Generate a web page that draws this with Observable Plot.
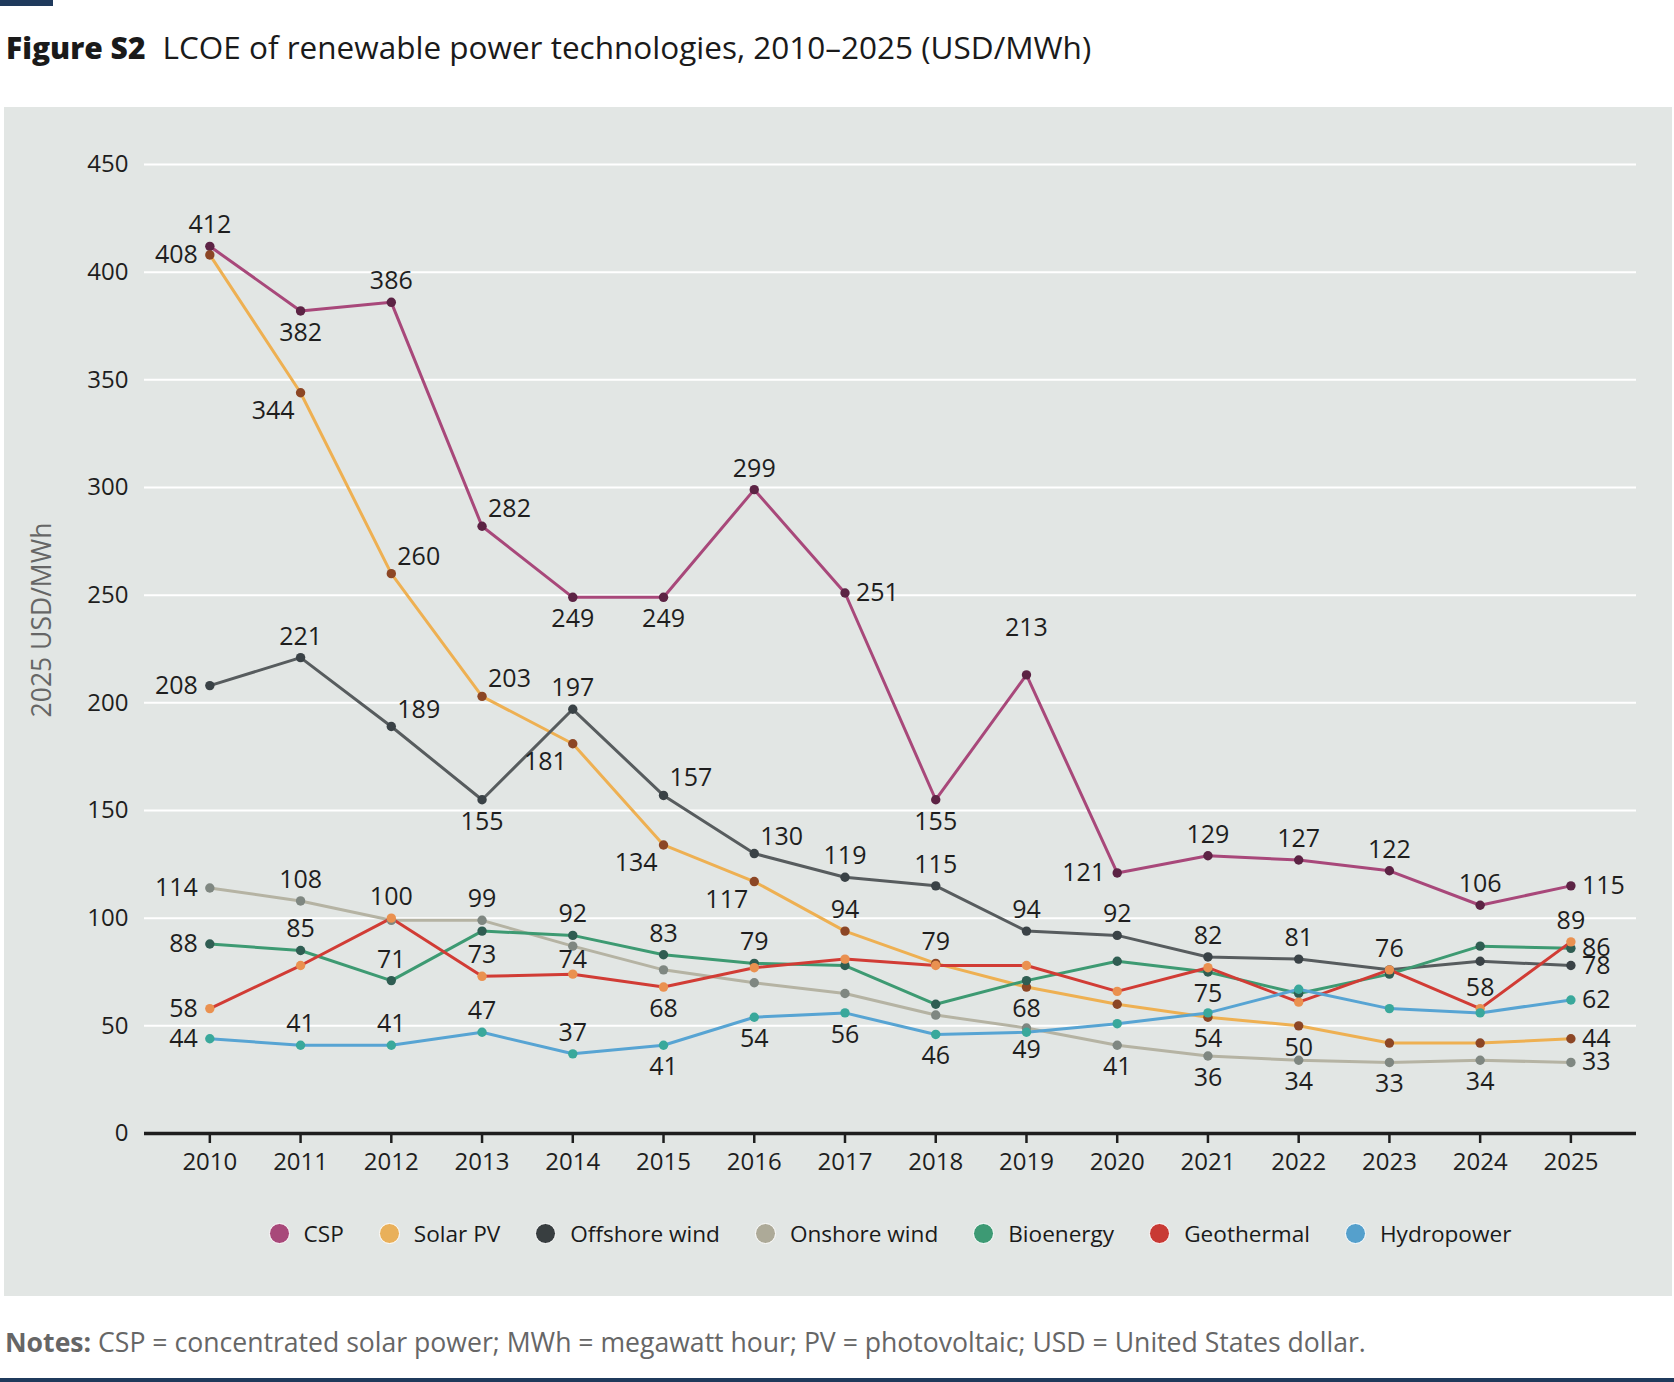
<!DOCTYPE html>
<html>
<head>
<meta charset="utf-8">
<script src="https://cdn.jsdelivr.net/npm/d3@7"></script>
<script src="https://cdn.jsdelivr.net/npm/@observablehq/plot@0.6"></script>
<style>
  body { margin: 0; background: #ffffff; }
  #page { position: relative; width: 1674px; height: 1382px; overflow: hidden; font-family: "Open Sans", sans-serif; color: #1a1a1a; }
  #topbar { position: absolute; left: 0; top: 0; width: 53px; height: 6px; background: #1f3a5c; }
  #title { position: absolute; left: 6px; top: 25px; font-size: 31.5px; white-space: nowrap; color: #1a1a1a; }
  #title b { font-weight: 800; font-size: 30px; margin-right: 17px; }
  #panel { position: absolute; left: 4px; top: 107px; width: 1668px; height: 1189px; background: #e2e6e4; }
  #chart { position: absolute; left: 0; top: 107px; }
  #ylabel { position: absolute; left: 41px; top: 620px; transform: translate(-50%, -50%) rotate(-90deg); font-size: 26.5px; color: #666; white-space: nowrap; }
  #legend { position: absolute; left: 144px; width: 1492px; top: 1218px; display: flex; justify-content: center; gap: 35px; font-size: 22.6px; }
  #legend .item { display: flex; align-items: center; gap: 14px; }
  #legend .sw { width: 21px; height: 21px; border-radius: 50%; border: 1.5px solid #fff; box-sizing: border-box; }
  #notes { position: absolute; left: 5px; top: 1324px; font-size: 26.6px; color: #666; white-space: nowrap; }
  #notes b { font-weight: 700; }
  #bottombar { position: absolute; left: 0; top: 1378px; width: 1674px; height: 4px; background: #1f3a5c; }
</style>
</head>
<body>
<div id="page">
  <div id="topbar"></div>
  <div id="title"><b>Figure S2</b>LCOE of renewable power technologies, 2010–2025 (USD/MWh)</div>
  <div id="panel"></div>
  <div id="chart"></div>
  <div id="ylabel">2025 USD/MWh</div>
  <div id="legend"></div>
  <div id="notes"><b>Notes:</b> CSP = concentrated solar power; MWh = megawatt hour; PV = photovoltaic; USD = United States dollar.</div>
  <div id="bottombar"></div>
</div>
<script>
// ---- data ----
const years = [2010, 2011, 2012, 2013, 2014, 2015, 2016, 2017, 2018, 2019, 2020, 2021, 2022, 2023, 2024, 2025];
const seriesNames = ["CSP", "Solar PV", "Offshore wind", "Onshore wind", "Bioenergy", "Geothermal", "Hydropower"];
const csp          = [412, 382, 386, 282, 249, 249, 299, 251, 155, 213, 121, 129, 127, 122, 106, 115];
const solarPV      = [408, 344, 260, 203, 181, 134, 117,  94,  79,  68,  60,  54,  50,  42,  42,  44];
const offshoreWind = [208, 221, 189, 155, 197, 157, 130, 119, 115,  94,  92,  82,  81,  76,  80,  78];
const onshoreWind  = [114, 108,  99,  99,  87,  76,  70,  65,  55,  49,  41,  36,  34,  33,  34,  33];
const bioenergy    = [ 88,  85,  71,  94,  92,  83,  79,  78,  60,  71,  80,  75,  65,  74,  87,  86];
const geothermal   = [ 58,  78, 100,  73,  74,  68,  77,  81,  78,  78,  66,  77,  61,  76,  58,  89];
const hydropower   = [ 44,  41,  41,  47,  37,  41,  54,  56,  46,  47,  51,  56,  67,  58,  56,  62];
const yTicks = [0, 50, 100, 150, 200, 250, 300, 350, 400, 450];

// which points carry a value label, and on which side
const labelledPoints = [
  ["CSP", 2010, "t"], ["CSP", 2011, "b"], ["CSP", 2012, "t"], ["CSP", 2013, "tr"], ["CSP", 2014, "b"],
  ["CSP", 2015, "b"], ["CSP", 2016, "t"], ["CSP", 2017, "r"], ["CSP", 2018, "b"], ["CSP", 2019, "T"],
  ["CSP", 2020, "l"], ["CSP", 2021, "t"], ["CSP", 2022, "t"], ["CSP", 2023, "t"], ["CSP", 2024, "t"], ["CSP", 2025, "r"],
  ["Solar PV", 2010, "l"], ["Solar PV", 2011, "bl"], ["Solar PV", 2012, "tr"], ["Solar PV", 2013, "tr"], ["Solar PV", 2014, "bl"],
  ["Solar PV", 2015, "bl"], ["Solar PV", 2016, "bl"], ["Solar PV", 2017, "t"], ["Solar PV", 2018, "t"], ["Solar PV", 2019, "b"],
  ["Solar PV", 2021, "b"], ["Solar PV", 2022, "b"], ["Solar PV", 2025, "r"],
  ["Offshore wind", 2010, "l"], ["Offshore wind", 2011, "t"], ["Offshore wind", 2012, "tr"], ["Offshore wind", 2013, "b"],
  ["Offshore wind", 2014, "t"], ["Offshore wind", 2015, "tr"], ["Offshore wind", 2016, "tr"], ["Offshore wind", 2017, "t"],
  ["Offshore wind", 2018, "t"], ["Offshore wind", 2019, "t"], ["Offshore wind", 2020, "t"], ["Offshore wind", 2021, "t"],
  ["Offshore wind", 2022, "t"], ["Offshore wind", 2023, "t"], ["Offshore wind", 2025, "r"],
  ["Onshore wind", 2010, "l"], ["Onshore wind", 2011, "t"], ["Onshore wind", 2013, "t"], ["Onshore wind", 2019, "b"],
  ["Onshore wind", 2020, "b"], ["Onshore wind", 2021, "b"], ["Onshore wind", 2022, "b"], ["Onshore wind", 2023, "b"],
  ["Onshore wind", 2024, "b"], ["Onshore wind", 2025, "r"],
  ["Bioenergy", 2010, "l"], ["Bioenergy", 2011, "t"], ["Bioenergy", 2012, "t"], ["Bioenergy", 2014, "t"], ["Bioenergy", 2015, "t"],
  ["Bioenergy", 2016, "t"], ["Bioenergy", 2021, "b"], ["Bioenergy", 2025, "r"],
  ["Geothermal", 2010, "l"], ["Geothermal", 2012, "t"], ["Geothermal", 2013, "t"], ["Geothermal", 2014, "ts"], ["Geothermal", 2015, "b"],
  ["Geothermal", 2024, "t"], ["Geothermal", 2025, "t"],
  ["Hydropower", 2010, "l"], ["Hydropower", 2011, "t"], ["Hydropower", 2012, "t"], ["Hydropower", 2013, "t"], ["Hydropower", 2014, "t"],
  ["Hydropower", 2015, "b"], ["Hydropower", 2016, "b"], ["Hydropower", 2017, "b"], ["Hydropower", 2018, "b"], ["Hydropower", 2025, "r"]
];
// label text shown for the onshore 2019 point (reference prints 49)
// ---- styles ----
const lineColors = ["#a8487a", "#eeb052", "#575c5e", "#b5b3a3", "#3d9a72", "#d13c35", "#57a4d3"];
const dotColors  = ["#5c2344", "#8c4625", "#3a4246", "#7f8781", "#2f5d52", "#ea9150", "#39a89b"];
const legendColors = ["#a8497a", "#e9b05a", "#383e40", "#adaa98", "#3d9a74", "#c83a34", "#55a0cc"];
const seriesValues = [csp, solarPV, offshoreWind, onshoreWind, bioenergy, geothermal, hydropower];

const rows = [];
seriesNames.forEach((name, i) => years.forEach((yr, j) => rows.push({series: name, year: yr, value: seriesValues[i][j]})));
const lookup = new Map(rows.map(d => [d.series + "|" + d.year, d]));

const placements = {
  t:  {dx: 0,   dy: -21, anchor: "middle"},
  ts: {dx: 0,   dy: -14, anchor: "middle"},
  T:  {dx: 0,   dy: -47, anchor: "middle"},
  b:  {dx: 0,   dy: 22,  anchor: "middle"},
  l:  {dx: -12, dy: 0,   anchor: "end"},
  r:  {dx: 11,  dy: 0,   anchor: "start"},
  tr: {dx: 6,   dy: -17, anchor: "start"},
  bl: {dx: -6,  dy: 18,  anchor: "end"}
};
const labelRows = labelledPoints.map(([s, yr, p]) => ({...lookup.get(s + "|" + yr), pos: p}));

const textMarks = Object.entries(placements).map(([key, o]) =>
  Plot.text(labelRows.filter(d => d.pos === key), {
    x: "year", y: "value", text: d => String(d.value),
    dx: o.dx, dy: o.dy, textAnchor: o.anchor, fontSize: 25, fill: "#1e1e1e"
  })
);

const chart = Plot.plot({
  width: 1674,
  height: 1096,
  marginTop: 57,
  marginBottom: 70,
  marginLeft: 144,
  marginRight: 38,
  style: {fontFamily: "'Open Sans', sans-serif", background: "transparent", color: "#1e1e1e"},
  x: {domain: [2009.28, 2025.723]},
  y: {domain: [0, 450]},
  color: {domain: seriesNames, range: lineColors},
  marks: [
    Plot.gridY(yTicks.filter(t => t > 0), {stroke: "#ffffff", strokeOpacity: 1, strokeWidth: 2}),
    Plot.axisY(yTicks, {tickSize: 0, tickPadding: 16, fontSize: 24, label: null}),
    Plot.axisX(years, {tickSize: 10, tickPadding: 9, fontSize: 24, label: null, strokeWidth: 2.5, tickFormat: d => String(d)}),
    Plot.ruleY([0], {stroke: "#1e1e1e", strokeWidth: 3.5}),
    Plot.line(rows, {x: "year", y: "value", z: "series", stroke: "series", strokeWidth: 3}),
    Plot.dot(rows, {x: "year", y: "value", r: 4.7, fill: d => dotColors[seriesNames.indexOf(d.series)], stroke: "none"}),
    ...textMarks
  ]
});
document.getElementById("chart").appendChild(chart);

// legend
const legend = document.getElementById("legend");
seriesNames.forEach((name, i) => {
  const it = document.createElement("div");
  it.className = "item";
  it.innerHTML = `<span class="sw" style="background:${legendColors[i]}"></span><span>${name}</span>`;
  legend.appendChild(it);
});
</script>
</body>
</html>
